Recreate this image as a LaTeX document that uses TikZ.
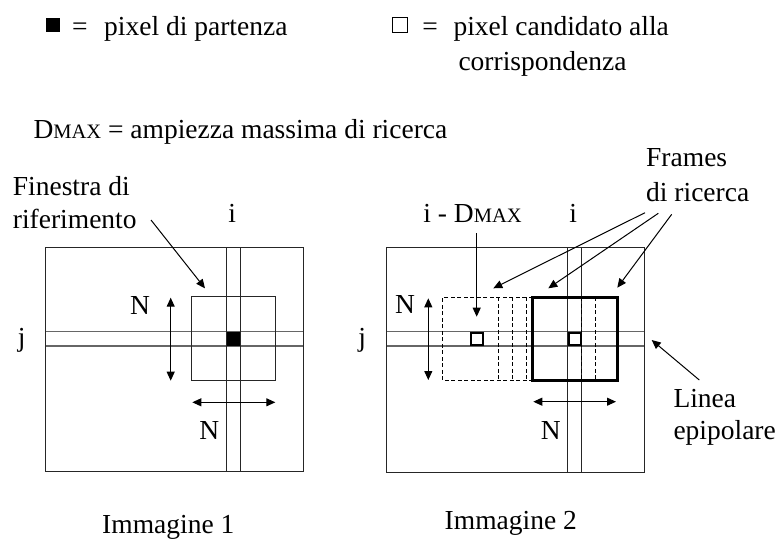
\documentclass[tikz,border=0pt]{standalone}
\usepackage{fontspec}
\setmainfont{Liberation Serif}
\usetikzlibrary{arrows.meta}
% small-caps style "MAX" faked with a reduced size
\newcommand\dmaxtxt{D{\fontsize{20.5}{21}\selectfont MAX}}

\begin{document}
\begin{tikzpicture}[x=1pt,y=-1pt,
  lbl/.style={inner sep=0pt, font=\fontsize{27.5}{32}\selectfont},
  frameline/.style={line width=1.2pt, draw=black!85},
  guide/.style={line width=1.2pt, draw=black!60},
  dsh/.style={line width=1pt, dash pattern=on 4pt off 2.5pt},
  arr/.style={line width=1pt, -{Triangle[length=9pt,width=8pt]}},
  darr/.style={line width=1pt, {Triangle[length=9pt,width=8pt]}-{Triangle[length=9pt,width=8pt]}},
  pix/.style={inner sep=0pt, minimum width=14.3pt, minimum height=14.3pt},
]
\useasboundingbox (0,0) rectangle (779,541);

% ---------- legend ----------
\node[pix, fill=black] (keyfull) at (53.2,25.3) {};
\node[lbl, anchor=base] (eqa) at (80,35) {=};
\node[lbl, anchor=base west] (keyfulltxt) at (104,35) {pixel di partenza};
\node[pix, draw, line width=0.8pt] (keyopen) at (400,25) {};
\node[lbl, anchor=base] (eqb) at (430,35) {=};
\node[lbl, anchor=base west] (keyopentxt) at (453.3,35) {pixel candidato alla};
\node[lbl, anchor=base west] (keyopentxtb) at (458.3,70) {corrispondenza};
\node[lbl, anchor=base west] (dmaxdef) at (33.3,138.3) {\dmaxtxt{} = ampiezza massima di ricerca};

% ---------- Immagine 1 ----------
\draw[frameline] (45.7,247.7) rectangle (303.3,471.7);
\draw[guide] (45.7,331.7) -- (303.3,331.7) (45.7,346) -- (303.3,346);
\draw[frameline] (226.7,247.7) -- (226.7,471.7) (240.3,247.7) -- (240.3,471.7);
\draw[frameline] (191.7,296.7) rectangle (275.3,380.7);
\node[pix, fill=black, minimum width=13.6pt] (startpix) at (233.5,338.9) {};

\node[lbl, anchor=base] (ia) at (232.3,222.7) {i};
\node[lbl, anchor=base] (ja) at (21.7,346) {j};
\node[lbl, anchor=base] (nva) at (140,314) {N};
\node[lbl, anchor=base] (nha) at (209.3,439.3) {N};
\coordinate (nvatop) at (170.7,297.7);
\coordinate (nvabot) at (170.7,380.7);
\coordinate (nhal) at (192.3,402.3);
\coordinate (nhar) at (275.3,402.3);
\draw[darr] (nvatop) -- (nvabot);
\draw[darr] (nhal) -- (nhar);

\node[lbl, anchor=base west] (fina) at (12.7,195.7) {Finestra di};
\node[lbl, anchor=base west] (finb) at (12.7,228.3) {riferimento};
\coordinate (finfrom) at (151,220);
\coordinate (finto) at (205,288.3);
\draw[arr] (finfrom) -- (finto);

\node[lbl, anchor=base] (imga) at (168.3,533) {Immagine 1};

% ---------- Immagine 2 ----------
\draw[frameline] (386.7,247.7) rectangle (644.3,472.3);
\draw[guide] (386.7,331.7) -- (644.3,331.7) (386.7,346) -- (644.3,346);
\draw[frameline] (567.7,247.7) -- (567.7,472.3) (581.7,247.7) -- (581.7,472.3);

% shifted search frames (dashed)
\draw[dsh] (532.7,297.3) -- (442.7,297.3) -- (442.7,380.7) -- (532.7,380.7);
\foreach \xx in {498.5,512.5,526.3}
  \draw[dsh] (\xx,297.3) -- (\xx,380.7);
\foreach \xx in {581.7,595.5}
  \draw[dsh] (\xx,297.3) -- (\xx,380.7);
% current search frame
\draw[line width=3pt] (532.7,297.3) rectangle (617,380.7);
% candidate pixels
\node[pix, draw, line width=2.5pt, minimum width=12pt, minimum height=12pt] (candl) at (477.1,339) {};
\node[pix, draw, line width=2.5pt, minimum width=12pt, minimum height=12pt] (candr) at (574.8,339) {};

\node[lbl, anchor=base] (ib) at (573.3,222.3) {i};
\node[lbl, anchor=base] (idmax) at (472.5,222.3) {i - \dmaxtxt};
\node[lbl, anchor=base] (jb) at (362.3,346) {j};
\node[lbl, anchor=base] (nvb) at (405,313.3) {N};
\node[lbl, anchor=base] (nhb) at (550.7,439.3) {N};
\coordinate (nvbtop) at (428.3,298.3);
\coordinate (nvbbot) at (428.3,380);
\coordinate (nhbl) at (533.3,401.7);
\coordinate (nhbr) at (616,401.7);
\draw[darr] (nvbtop) -- (nvbbot);
\draw[darr] (nhbl) -- (nhbr);

\coordinate (dmaxfrom) at (476.7,233.3);
\coordinate (dmaxto) at (476.7,316.7);
\draw[arr] (dmaxfrom) -- (dmaxto);

\node[lbl, anchor=base west] (fra) at (646,166.7) {Frames};
\node[lbl, anchor=base west] (frb) at (646,201.7) {di ricerca};
\coordinate (fr1from) at (645,212.7);
\coordinate (fr1to) at (493.3,288.3);
\coordinate (fr2from) at (658.3,213.3);
\coordinate (fr2to) at (548.3,288.3);
\coordinate (fr3from) at (671.7,214.3);
\coordinate (fr3to) at (617.3,287.7);
\draw[arr] (fr1from) -- (fr1to);
\draw[arr] (fr2from) -- (fr2to);
\draw[arr] (fr3from) -- (fr3to);

\node[lbl, anchor=base west] (epa) at (673.3,407) {Linea};
\node[lbl, anchor=base west] (epb) at (673.3,439) {epipolare};
\coordinate (epfrom) at (699.3,380);
\coordinate (epto) at (651.7,340);
\draw[arr] (epfrom) -- (epto);

\node[lbl, anchor=base] (imgb) at (510.8,529.5) {Immagine 2};
\end{tikzpicture}
\end{document}
